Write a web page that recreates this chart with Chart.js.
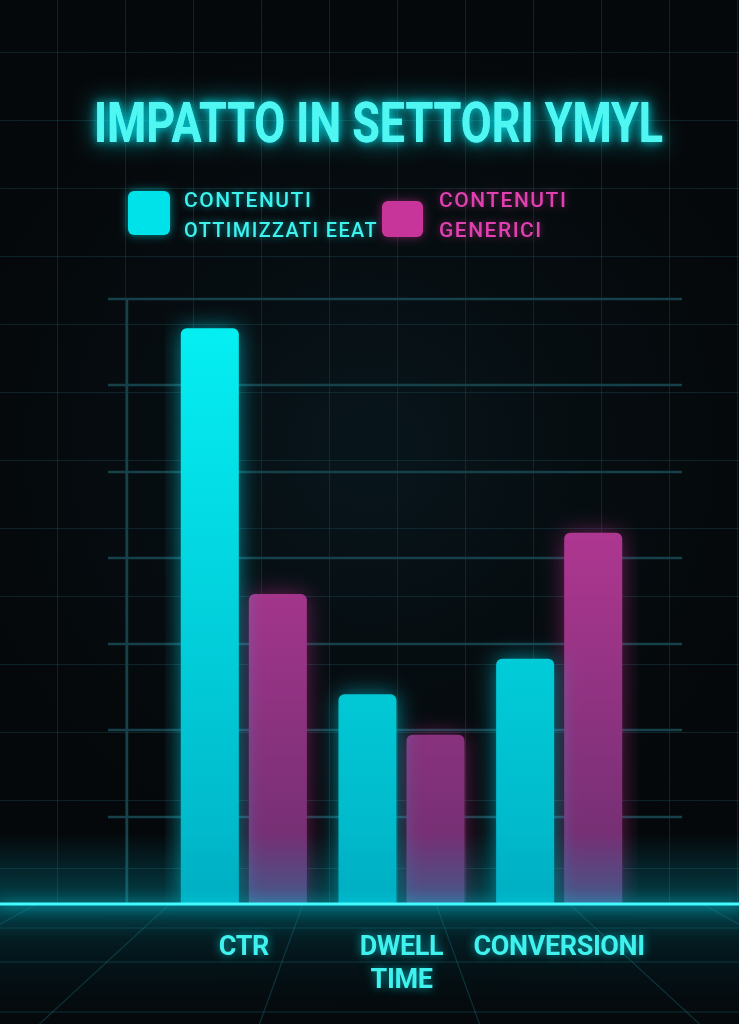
<!DOCTYPE html>
<html lang="it">
<head>
<meta charset="utf-8">
<title>Impatto in settori YMYL</title>
<script src="https://cdn.jsdelivr.net/npm/chart.js@4.4.1/dist/chart.umd.min.js"></script>
<style>
  html, body { margin: 0; padding: 0; background: #05080b; }
  #box { position: relative; width: 739px; height: 1024px; }
</style>
</head>
<body>
<div id="box"><canvas id="grafico"></canvas></div>
<script>
// DATI DEL GRAFICO
var categorie = ['CTR', ['DWELL', 'TIME'], 'CONVERSIONI'];
var serieEtichette = [['CONTENUTI', 'OTTIMIZZATI EEAT'], ['CONTENUTI', 'GENERICI']];
var valoriEeat = [66.6, 24.2, 28.3];
var valoriGenerici = [35.8, 19.5, 42.9];
var titolo = 'IMPATTO IN SETTORI YMYL';

var CIANO = '#3ff2ee';
var MAGENTA = '#e040b0';

// gradiente verticale sull'area del grafico
function gradiente(ctx, area, alto, basso) {
    var g = ctx.createLinearGradient(0, area.top, 0, area.bottom);
    g.addColorStop(0, alto);
    g.addColorStop(1, basso);
    return g;
}

// sfondo, griglia, pavimento, titolo e legenda
var sfondoPlugin = {
    id: 'sfondo',
    beforeDraw: function(chart) {
        var ctx = chart.ctx;
        var W = chart.width, H = chart.height;
        var base = chart.chartArea.bottom;
        ctx.save();
        ctx.fillStyle = '#05080b';
        ctx.fillRect(0, 0, W, H);

        // leggero alone centrale
        var rg = ctx.createRadialGradient(W / 2, 450, 50, W / 2, 450, 600);
        rg.addColorStop(0, 'rgba(10,30,38,0.55)');
        rg.addColorStop(1, 'rgba(0,0,0,0)');
        ctx.fillStyle = rg;
        ctx.fillRect(0, 0, W, H);

        // griglia di sfondo
        ctx.strokeStyle = 'rgba(30,85,95,0.35)';
        ctx.lineWidth = 1;
        for (var x = 57; x < W; x += 68) {
            ctx.beginPath(); ctx.moveTo(x + 0.5, 0); ctx.lineTo(x + 0.5, base); ctx.stroke();
        }
        for (var y = 52; y < base; y += 68) {
            ctx.beginPath(); ctx.moveTo(0, y + 0.5); ctx.lineTo(W, y + 0.5); ctx.stroke();
        }

        // pavimento in prospettiva
        var fg = ctx.createLinearGradient(0, base, 0, H);
        fg.addColorStop(0, 'rgba(0,170,190,0.5)');
        fg.addColorStop(0.3, 'rgba(0,90,105,0.25)');
        fg.addColorStop(1, 'rgba(0,20,25,0.05)');
        ctx.fillStyle = fg;
        ctx.fillRect(0, base, W, H - base);

        ctx.save();
        ctx.beginPath(); ctx.rect(0, base, W, H - base); ctx.clip();
        ctx.strokeStyle = 'rgba(30,120,135,0.35)';
        ctx.lineWidth = 1.2;
        var vx = W / 2, vy = 720;
        for (var k = -5; k <= 5; k++) {
            var bx = vx + k * 220 + 110;
            ctx.beginPath(); ctx.moveTo(vx, vy); ctx.lineTo(bx, H); ctx.stroke();
        }
        [928, 962, 1012].forEach(function(yy) {
            ctx.beginPath(); ctx.moveTo(0, yy); ctx.lineTo(W, yy); ctx.stroke();
        });
        ctx.restore();

        // titolo con bagliore
        ctx.font = 'bold 56px Roboto, sans-serif';
        ctx.textAlign = 'center';
        ctx.textBaseline = 'alphabetic';
        ctx.fillStyle = '#4ff6f2';
        ctx.shadowColor = 'rgba(0,230,240,0.85)';
        ctx.shadowBlur = 22;
        ctx.fillText(titolo, 378.5, 142, 569);
        ctx.shadowBlur = 8;
        ctx.fillText(titolo, 378.5, 142, 569);

        // legenda
        var voci = [
            { box: [128, 191, 42, 44], tx: 184, colore: '#00e2ea', testo: CIANO, ombra: 'rgba(0,230,240,0.6)' },
            { box: [382, 201, 41, 36], tx: 439, colore: '#c8359a', testo: MAGENTA, ombra: 'rgba(220,50,160,0.5)' }
        ];
        ctx.letterSpacing = '1.5px';
        voci.forEach(function(v, i) {
            var b = v.box;
            ctx.shadowColor = v.ombra;
            ctx.shadowBlur = 10;
            ctx.fillStyle = v.colore;
            ctx.beginPath();
            ctx.roundRect(b[0], b[1], b[2], b[3], 6);
            ctx.fill();
            ctx.font = '500 21px Roboto, sans-serif';
            ctx.textAlign = 'left';
            ctx.fillStyle = v.testo;
            ctx.shadowBlur = 6;
            var righe = serieEtichette[i];
            ctx.fillText(righe[0], v.tx, 207, 200);
            ctx.fillText(righe[1], v.tx, 237, 194);
        });
        ctx.restore();

        // bagliore e spaziatura per le etichette dell'asse x (disegnate subito dopo)
        ctx.shadowColor = 'rgba(0,230,240,0.7)';
        ctx.shadowBlur = 10;
        ctx.letterSpacing = '-0.4px';
    },
    beforeDatasetsDraw: function(chart) {
        var ctx = chart.ctx;
        ctx.shadowBlur = 0;
        ctx.shadowColor = 'rgba(0,0,0,0)';
        ctx.letterSpacing = '0px';
        var y = chart.scales.y;
        var area = chart.chartArea;
        ctx.save();
        ctx.strokeStyle = '#16414a';
        ctx.lineWidth = 2.5;
        y.ticks.forEach(function(t) {
            if (t.value <= 0) return;
            var py = Math.round(y.getPixelForValue(t.value));
            ctx.beginPath(); ctx.moveTo(108, py); ctx.lineTo(682, py); ctx.stroke();
        });
        // asse verticale
        ctx.beginPath();
        ctx.moveTo(127, y.getPixelForValue(y.max));
        ctx.lineTo(127, area.bottom);
        ctx.stroke();
        ctx.restore();
    },
    beforeDatasetDraw: function(chart, args) {
        var ctx = chart.ctx;
        ctx.save();
        ctx.shadowColor = args.index === 0 ? 'rgba(0,235,255,0.55)' : 'rgba(220,50,160,0.45)';
        ctx.shadowBlur = 22;
    },
    afterDatasetDraw: function(chart) {
        chart.ctx.restore();
    },
    afterDatasetsDraw: function(chart) {
        var ctx = chart.ctx;
        var base = chart.chartArea.bottom;
        ctx.save();
        // foschia alla base delle barre
        var hz = ctx.createLinearGradient(0, base - 70, 0, base);
        hz.addColorStop(0, 'rgba(0,160,180,0)');
        hz.addColorStop(1, 'rgba(0,170,190,0.35)');
        ctx.fillStyle = hz;
        ctx.fillRect(0, base - 70, chart.width, 70);
        // linea luminosa del pavimento
        ctx.strokeStyle = '#45fbff';
        ctx.lineWidth = 3;
        ctx.shadowColor = 'rgba(0,240,255,0.9)';
        ctx.shadowBlur = 14;
        ctx.beginPath(); ctx.moveTo(0, base + 1); ctx.lineTo(chart.width, base + 1); ctx.stroke();
        ctx.restore();
    }
};

var ctx = document.getElementById('grafico').getContext('2d');
var grafico = new Chart(ctx, {
    type: 'bar',
    data: {
        labels: categorie,
        datasets: [{
            label: serieEtichette[0].join(' '),
            data: valoriEeat,
            backgroundColor: function(c) {
                var a = c.chart.chartArea;
                if (!a) return '#00e6ee';
                return gradiente(c.chart.ctx, a, '#05f2f4', '#00b2c6');
            },
            borderRadius: 6,
            borderSkipped: 'bottom'
        }, {
            label: serieEtichette[1].join(' '),
            data: valoriGenerici,
            backgroundColor: function(c) {
                var a = c.chart.chartArea;
                if (!a) return '#c8359a';
                return gradiente(c.chart.ctx, a, '#d93ca6', '#6a2e6e');
            },
            borderRadius: 6,
            borderSkipped: 'bottom'
        }]
    },
    options: {
        responsive: true,
        maintainAspectRatio: false,
        animation: false,
        layout: { padding: { top: 299, left: 165, right: 101, bottom: 0 } },
        categoryPercentage: 0.863,
        barPercentage: 0.853,
        plugins: {
            legend: { display: false },
            title: { display: false },
            tooltip: { enabled: false }
        },
        scales: {
            x: {
                grid: { display: false, drawTicks: false },
                border: { display: false },
                ticks: {
                    color: CIANO,
                    padding: 28,
                    maxRotation: 0,
                    autoSkip: false,
                    font: { family: 'Roboto, sans-serif', size: 27, weight: 'bold', lineHeight: 1.25 }
                },
                afterFit: function(s) { s.height = 121; }
            },
            y: {
                min: 0,
                max: 70,
                ticks: { display: false, stepSize: 10 },
                grid: { display: false, drawTicks: false },
                border: { display: false }
            }
        }
    },
    plugins: [sfondoPlugin]
});
</script>
</body>
</html>
